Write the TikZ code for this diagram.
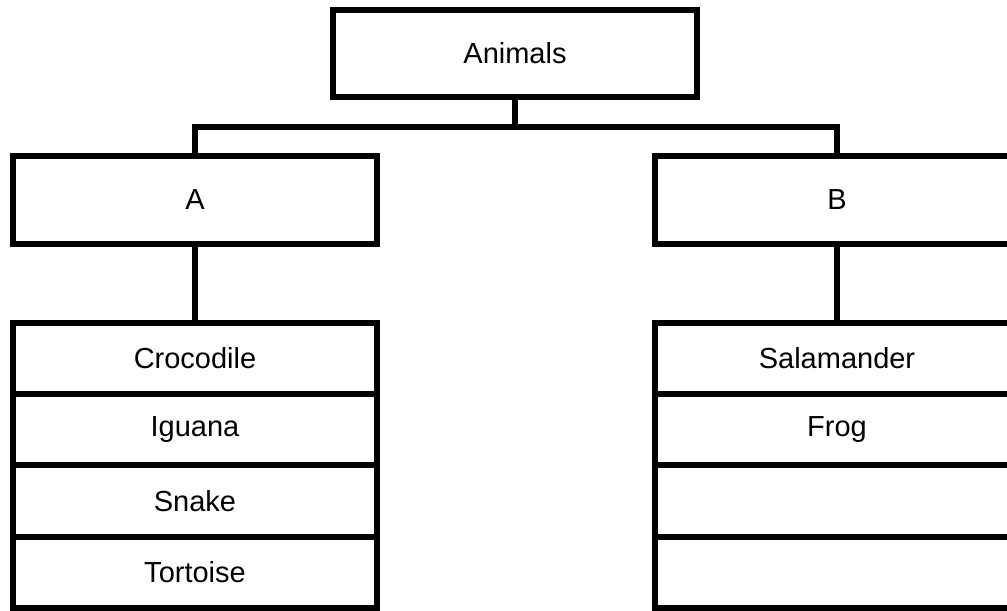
\documentclass[tikz,border=0pt]{standalone}
\usepackage{fontspec}
\setmainfont{Liberation Sans}
\usepackage{tikz}
\usetikzlibrary{positioning}

\tikzset{
  box/.style={draw, line width=3.4pt, outer sep=0pt, minimum width=7.28cm,
              minimum height=1.76cm, font=\fontsize{16.5}{20}\selectfont},
  row/.style={box, minimum height=1.425cm},
  link/.style={line width=3.4pt}
}

\begin{document}
\begin{tikzpicture}
\useasboundingbox (0,0) rectangle (20.14,-12.22);
\clip (0,0) rectangle (20.14,-12.22);
\node[box, minimum height=1.74cm] (animals) at (10.3,-1.07) {Animals};
\node[box] (A) at (3.9,-4.0) {A};
\node[box] (B) at (16.74,-4.0) {B};
\coordinate (split) at (10.3,-2.54);
\draw[link] (animals.south) -- (split);
\draw[link] (A.north) |- (split) -| (B.north);
% lista A
\node[row] (a1) at (3.9,-7.17) {Crocodile};
\node[row, below=0pt of a1] (a2) {Iguana};
\node[row, below=0pt of a2] (a3) {Snake};
\node[row, below=0pt of a3] (a4) {Tortoise};
% lista B, dwa puste pola
\node[row] (b1) at (16.74,-7.17) {Salamander};
\node[row, below=0pt of b1] (b2) {Frog};
\node[row, below=0pt of b2] (b3) {};
\node[row, below=0pt of b3] (b4) {};
\draw[link] (A.south) -- (a1.north);
\draw[link] (B.south) -- (b1.north);
\end{tikzpicture}
\end{document}
